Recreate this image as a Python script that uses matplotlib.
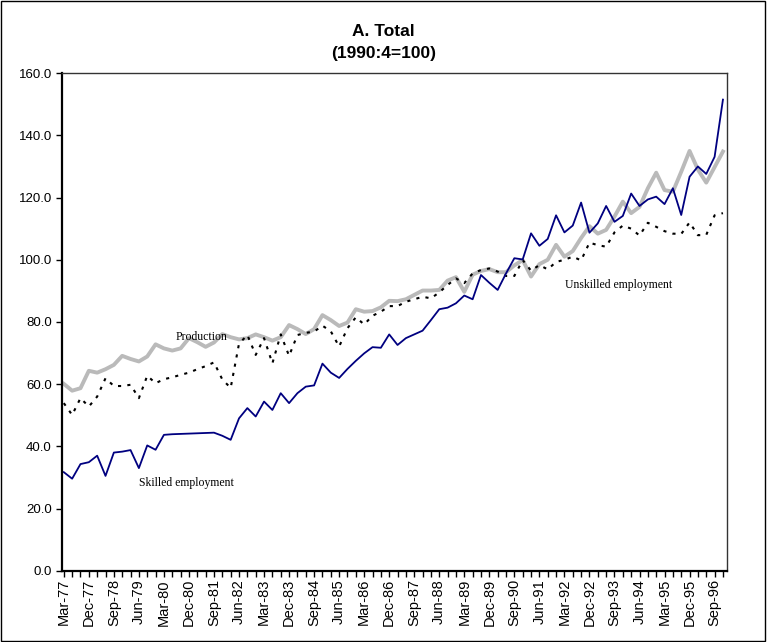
import matplotlib.pyplot as plt
import matplotlib.patches as mpatches
import numpy as np

plt.rcParams['font.family'] = ['Liberation Sans', 'DejaVu Sans']

# quarterly labels Mar-77 .. Dec-96
years = list(range(77, 97))
months = ['Mar', 'Jun', 'Sep', 'Dec']
quarters = [f'{m}-{y}' for y in years for m in months]

skilled = [31.7, 29.6, 34.3, 34.9, 37.0, 30.5, 38.0, 38.3, 38.8, 33.0,
           40.3, 38.9, 43.7, 43.9, 44.0, 44.1, 44.2, 44.3, 44.4, 43.4,
           42.1, 49.0, 52.3, 49.6, 54.4, 51.7, 57.1, 53.9, 57.1, 59.2,
           59.6, 66.6, 63.7, 62.0, 64.9, 67.5, 69.9, 71.9, 71.7, 76.0,
           72.6, 74.8, 76.0, 77.2, 80.6, 84.1, 84.6, 86.0, 88.5, 87.3,
           95.1, 92.6, 90.3, 95.6, 100.5, 100.1, 108.5, 104.5, 106.7, 114.3,
           108.8, 111.0, 118.4, 108.7, 111.7, 117.3, 112.2, 114.1, 121.3, 117.3,
           119.4, 120.3, 117.9, 123.0, 114.4, 126.7, 130.0, 127.6, 133.1, 151.5]

production = [60.1, 57.9, 58.7, 64.3, 63.7, 64.8, 66.2, 69.1, 68.1, 67.3,
              68.9, 72.8, 71.5, 70.8, 71.5, 74.8, 73.5, 72.0, 73.4, 76.1,
              75.1, 74.4, 74.8, 76.0, 75.1, 74.0, 75.1, 79.0, 77.7, 76.1,
              77.7, 82.2, 80.6, 78.7, 79.8, 84.1, 83.3, 83.5, 84.7, 86.8,
              86.7, 87.3, 88.7, 90.1, 90.1, 90.3, 93.3, 94.4, 89.7, 95.2,
              96.4, 97.0, 96.0, 96.0, 98.2, 99.9, 94.6, 98.6, 100.0, 104.8,
              101.0, 102.8, 107.0, 110.8, 108.4, 109.6, 113.9, 118.7, 115.0, 117.0,
              123.0, 128.0, 122.4, 121.9, 128.3, 135.0, 129.0, 124.8, 129.8, 134.8]

unskilled = [53.9, 50.1, 55.5, 52.8, 56.0, 61.9, 59.4, 59.4, 59.8, 55.5,
             62.7, 60.3, 61.6, 62.2, 63.0, 63.7, 64.8, 65.8, 67.0, 61.5,
             58.8, 73.0, 75.8, 69.4, 74.8, 66.7, 76.0, 69.1, 75.8, 76.5,
             76.9, 78.8, 77.0, 72.1, 78.0, 81.5, 79.2, 82.0, 83.3, 85.1,
             85.1, 86.5, 87.3, 88.1, 87.6, 89.5, 91.9, 94.0, 92.5, 95.6,
             96.7, 97.2, 96.2, 94.8, 94.8, 99.9, 96.5, 98.3, 96.9, 99.3,
             100.0, 101.0, 99.8, 105.5, 104.7, 104.2, 108.8, 111.0, 110.0, 107.8,
             111.9, 110.6, 109.2, 108.4, 108.3, 112.0, 107.9, 108.0, 114.3, 115.0]

x = np.arange(len(quarters))

fig = plt.figure(figsize=(7.67, 6.42), dpi=100)
ax = fig.add_axes([0.081, 0.111, 0.867, 0.775])

ax.plot(x, production, color='#bababa', linewidth=2.8)
ax.plot(x, unskilled, color='black', linewidth=1.5, linestyle=(0, (1.5, 3)))
ax.plot(x, skilled, color='#000080', linewidth=1.3)

ax.text(13.4, 75.2, 'Production', family='Liberation Serif', fontsize=8.5, va='center')
ax.text(9.0, 28.3, 'Skilled employment', family='Liberation Serif', fontsize=8.5, va='center')
ax.text(60.1, 91.9, 'Unskilled employment', family='Liberation Serif', fontsize=8.5, va='center')

ax.set_xlim(-0.2, 79.5)
ax.set_ylim(0, 160)
ax.set_yticks(np.arange(0, 161, 20))
ax.set_yticklabels([f'{v:.1f}' for v in np.arange(0, 161, 20)], fontsize=9.5)
ax.set_xticks(x[::3])
ax.set_xticklabels(quarters[::3], rotation=90, fontsize=10.5)
ax.set_xticks(x, minor=True)
ax.tick_params(axis='both', which='both', direction='out', length=4, width=1)
ax.tick_params(axis='x', which='major', pad=2)

for s in ['left', 'bottom']:
    ax.spines[s].set_linewidth(1.6)
    ax.spines[s].set_color('black')
for s in ['top', 'right']:
    ax.spines[s].set_linewidth(1)
    ax.spines[s].set_color('#333333')

fig.text(0.5, 0.951, 'A. Total', ha='center', va='center', fontsize=12.5, fontweight='bold')
fig.text(0.5, 0.917, '(1990:4=100)', ha='center', va='center', fontsize=12.5, fontweight='bold')

fig.patches.append(mpatches.Rectangle((0.001, 0.001), 0.997, 0.997, transform=fig.transFigure,
                                      fill=False, edgecolor='black', linewidth=1))

fig.savefig('out.png', dpi=100)
